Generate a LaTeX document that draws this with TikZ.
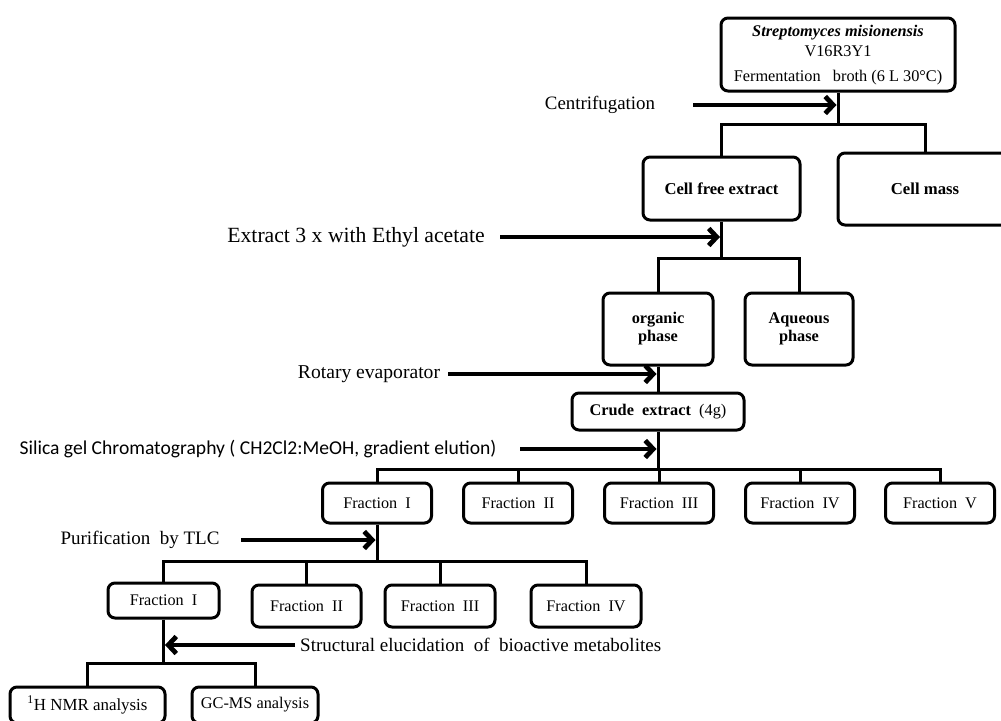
\documentclass[tikz,border=0pt]{standalone}
\usepackage{fontspec}
\setmainfont{Liberation Serif}
\newfontfamily\calibrifont{Carlito}
\usetikzlibrary{arrows.meta}
\newcommand{\fs}[2]{\fontsize{#1}{#2}\selectfont}
\begin{document}
\begin{tikzpicture}[x=1pt,y=-1pt,
  box/.style={draw,line width=3pt,rounded corners=7pt,align=center,inner sep=0pt},
  conn/.style={line width=3pt},
  arr/.style={line width=4.8pt,-{Straight Barb[length=8pt,width=17pt]},shorten >=1.5pt},
  lbl/.style={inner sep=0pt,anchor=center}]
\useasboundingbox (0,0) rectangle (1001,720);
% boxes
\node[box,minimum width=234pt,minimum height=73pt,font=\fs{16.3}{20.5}] (top) at (838,54.5)
  {\raisebox{-2.5pt}{\begin{tabular}{@{}c@{}}\textbf{\textit{Streptomyces misionensis}}\\
   V16R3Y1\\[4pt]
   Fermentation\ \ \ broth (6 L 30°C)\end{tabular}}};
\node[box,minimum width=157pt,minimum height=63pt,font=\fs{16.6}{18}\bfseries] (cellfree) at (721.5,188.5)
  {Cell free extract};
\node[box,minimum width=174pt,minimum height=72pt,font=\fs{16.7}{18}\bfseries] (cellmass) at (925,189)
  {Cell mass};
\node[box,minimum width=110pt,minimum height=72pt,font=\fs{16.3}{18}\bfseries] (organic) at (658,329)
  {organic\\phase};
\node[box,minimum width=108pt,minimum height=72pt,font=\fs{16.3}{18}\bfseries] (aqueous) at (799,329)
  {Aqueous\\phase};
\node[box,minimum width=172pt,minimum height=37pt,font=\fs{16.3}{18}] (crude) at (658,411.5)
  {\textbf{Crude\ \ extract}\ \ (4g)};
% level 1 fractions
\foreach \n/\x/\t in {f1/377/I,f2/518/II,f3/659/III,f4/800/IV,f5/940/V}
  \node[box,minimum width=109pt,minimum height=40pt,font=\fs{16.2}{18}] (\n) at (\x,503)
    {Fraction\ \ \t};
% level 2 fractions
\node[box,minimum width=111pt,minimum height=35pt,font=\fs{16.2}{18}] (g1) at (163.5,600.5)
  {Fraction\ \ I};
\node[box,minimum width=109pt,minimum height=42pt,font=\fs{16.2}{18}] (g2) at (306.5,606)
  {Fraction\ \ II};
\node[box,minimum width=110pt,minimum height=42pt,font=\fs{16.2}{18}] (g3) at (440,606)
  {Fraction\ \ III};
\node[box,minimum width=110pt,minimum height=42pt,font=\fs{16.2}{18}] (g4) at (586,606)
  {Fraction\ \ IV};
% bottom boxes
\node[box,minimum width=155pt,minimum height=36pt,font=\fs{16.9}{18}] (n1) at (87.5,705)
  {\textsuperscript{1}H NMR analysis};
\node[box,minimum width=126pt,minimum height=36pt,font=\fs{16.3}{18}] (n2) at (255,705)
  {GC-MS analysis};
% labels
\node[lbl,font=\fs{18.9}{20}] (centrif) at (600,105) {Centrifugation};
\node[lbl,font=\fs{21.7}{22}] (extract) at (356,237) {Extract 3 x with Ethyl acetate};
\node[lbl,font=\fs{19.6}{20}] (rotary) at (369,374) {Rotary evaporator};
\node[lbl,font=\calibrifont\fs{19.6}{20}] (silica) at (258,449) {Silica gel Chromatography ( CH2Cl2:MeOH, gradient elution)};
\node[lbl,font=\fs{19}{20}] (purif) at (140,540) {Purification\ \ by TLC};
\node[lbl,anchor=west,font=\fs{19}{20}] (struct) at (300,645) {Structural elucidation\ \ of\ \ bioactive metabolites};
% tree connectors
\draw[conn] (top.south) -- ++(0,32) coordinate (j1);
\draw[conn] (cellfree.north) |- (j1) -| (cellmass.north);
\draw[conn] (cellfree.south) -- ++(0,37) coordinate (j2);
\draw[conn] (organic.north) |- (j2) -| (aqueous.north);
\draw[conn] (organic.south) -- (crude.north);
\draw[conn] (crude.south) -- ++(0,37.5) coordinate (j3);
\draw[conn] (f1.north) |- (j3) -| (f5.north);
\draw[conn] (f2.north) -- (f2.north |- j3);
\draw[conn] (f3.north) -- (f3.north |- j3);
\draw[conn] (f4.north) -- (f4.north |- j3);
\draw[conn] (f1.south) -- ++(0,37) coordinate (j4);
\draw[conn] (g1.north) |- (j4) -| (g4.north);
\draw[conn] (g2.north) -- (g2.north |- j4);
\draw[conn] (g3.north) -- (g3.north |- j4);
\draw[conn] (g1.south) -- ++(0,43.5) coordinate (j5);
\draw[conn] (n1.north) |- (j5) -| (n2.north);
% process arrows
\coordinate (a1) at (693,105);
\coordinate (a2) at (500,237);
\coordinate (a3) at (448,374);
\coordinate (a4) at (520,449);
\coordinate (a5) at (241,540);
\coordinate (a6) at (295,645);
\draw[arr] (a1) -- (a1 -| top.south);
\draw[arr] (a2) -- (a2 -| cellfree.south);
\draw[arr] (a3) -- (a3 -| organic.south);
\draw[arr] (a4) -- (a4 -| crude.south);
\draw[arr] (a5) -- (a5 -| f1.south);
\draw[arr] (a6) -- (a6 -| g1.south);
\end{tikzpicture}
\end{document}
